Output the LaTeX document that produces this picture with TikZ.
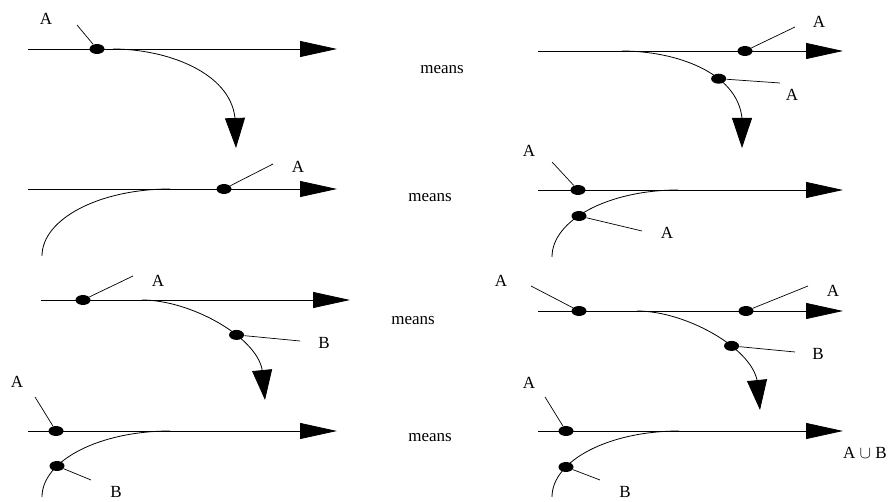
\documentclass[tikz,border=0pt]{standalone}
\usepackage{fontspec}
\setmainfont{Liberation Serif}
\usetikzlibrary{arrows.meta,shapes.geometric}
\begin{document}
\begin{tikzpicture}[x=1pt,y=1pt,
  line width=0.8pt,
  dotnode/.style={ellipse,fill=black,inner sep=0pt,minimum width=15pt,minimum height=10pt},
  lab/.style={font=\fontsize{17}{20}\selectfont,inner sep=0pt},
  harrow/.style={-{Triangle[length=37pt,width=16pt]}},
  varrow/.style={-{Triangle[length=30pt,width=20pt]}},
  tickln/.style={line width=0.7pt}]
\useasboundingbox (0,0) rectangle (896,502);

% ---------- Row 1 left ----------
\coordinate (a1s) at (28,453); \coordinate (a1e) at (337,453);
\coordinate (a1c0) at (113,453); \coordinate (a1c1) at (235,384); \coordinate (a1c2) at (236,354);
\draw[harrow] (a1s) -- (a1e);
\draw[varrow] (a1c0) .. controls (166,453) and (230,430) .. (a1c1) -- (a1c2);
\node[dotnode] (a1d) at (97,453) {};
\coordinate (a1t) at (77,477);
\draw[tickln] (a1d) -- (a1t);
\node[lab] (a1A) at (46,483) {A};

% ---------- Row 1 right ----------
\coordinate (b1s) at (538,451); \coordinate (b1e) at (843,451);
\coordinate (b1c0) at (622,451);
\coordinate (b1c1) at (742,384); \coordinate (b1c2) at (742,354);
\draw[harrow] (b1s) -- (b1e);
\draw[varrow] (b1c0) .. controls (675,451) and (737,430) .. (b1c1)
   node[pos=0.65,dotnode] (b1d2) {} -- (b1c2);
\node[dotnode] (b1d) at (745,451) {};
\coordinate (b1t) at (795,475); \coordinate (b1t2) at (780,419);
\draw[tickln] (b1d) -- (b1t);
\draw[tickln] (b1d2) -- (b1t2);
\node[lab] (b1A) at (819,480) {A};
\node[lab] (b1A2) at (792,407) {A};
\node[lab] (m1) at (442,432) {means};

% ---------- Row 2 left ----------
\coordinate (a2s) at (28,313); \coordinate (a2e) at (337,313);
\coordinate (a2c0) at (170,313);
\draw[harrow] (a2s) -- (a2e);
\draw (a2c0) arc[start angle=90,end angle=180,x radius=128,y radius=67];
\node[dotnode] (a2d) at (224,313) {};
\coordinate (a2t) at (273,338);
\draw[tickln] (a2d) -- (a2t);
\node[lab] (a2A) at (298,335) {A};

% ---------- Row 2 right ----------
\coordinate (b2s) at (538,312); \coordinate (b2e) at (843,312);
\coordinate (b2c0) at (678,312);
\draw[harrow] (b2s) -- (b2e);
\draw (b2c0) arc[start angle=90,end angle=180,x radius=126,y radius=67];
\node[dotnode] (b2d) at (578,312) {};
\node[dotnode] (b2d2) at (579,286) {};
\coordinate (b2t) at (552,340); \coordinate (b2t2) at (642,271);
\draw[tickln] (b2d) -- (b2t);
\draw[tickln] (b2d2) -- (b2t2);
\node[lab] (b2A) at (529,351) {A};
\node[lab] (b2A2) at (667,269) {A};
\node[lab] (m2) at (430,304) {means};

% ---------- Row 3 left ----------
\coordinate (a3s) at (41,202); \coordinate (a3e) at (350,202);
\coordinate (a3c0) at (142,202);
\coordinate (a3c1) at (262,133); \coordinate (a3c2) at (265,102);
\draw[harrow] (a3s) -- (a3e);
\draw[varrow] (a3c0) .. controls (190,202) and (255,166) .. (a3c1)
   node[pos=0.65,dotnode] (a3d2) {} -- (a3c2);
\node[dotnode] (a3d) at (83,202) {};
\coordinate (a3t) at (133,226); \coordinate (a3t2) at (300,161);
\draw[tickln] (a3d) -- (a3t);
\draw[tickln] (a3d2) -- (a3t2);
\node[lab] (a3A) at (158,221) {A};
\node[lab] (a3B) at (324,159) {B};

% ---------- Row 3 right ----------
\coordinate (b3s) at (538,191); \coordinate (b3e) at (843,191);
\coordinate (b3c0) at (637,191);
\coordinate (b3c1) at (757,122); \coordinate (b3c2) at (760,92);
\draw[harrow] (b3s) -- (b3e);
\draw[varrow] (b3c0) .. controls (685,191) and (750,155) .. (b3c1)
   node[pos=0.65,dotnode] (b3d3) {} -- (b3c2);
\node[dotnode] (b3d) at (579,191) {};
\node[dotnode] (b3d2) at (746,191) {};
\coordinate (b3t) at (531,216); \coordinate (b3t2) at (808,216); \coordinate (b3t3) at (795,150);
\draw[tickln] (b3d) -- (b3t);
\draw[tickln] (b3d2) -- (b3t2);
\draw[tickln] (b3d3) -- (b3t3);
\node[lab] (b3A) at (501,221) {A};
\node[lab] (b3A2) at (833,211) {A};
\node[lab] (b3B) at (818,148) {B};
\node[lab] (m3) at (413,181) {means};

% ---------- Row 4 left ----------
\coordinate (a4s) at (28,71); \coordinate (a4e) at (337,71);
\coordinate (a4c0) at (170,71);
\draw[harrow] (a4s) -- (a4e);
\draw (a4c0) arc[start angle=90,end angle=180,x radius=128,y radius=66];
\node[dotnode] (a4d) at (56,71) {};
\node[dotnode] (a4d2) at (57,36) {};
\coordinate (a4t) at (35,105); \coordinate (a4t2) at (91,22);
\draw[tickln] (a4d) -- (a4t);
\draw[tickln] (a4d2) -- (a4t2);
\node[lab] (a4A) at (17,120) {A};
\node[lab] (a4B) at (116,10) {B};

% ---------- Row 4 right ----------
\coordinate (b4s) at (538,71); \coordinate (b4e) at (843,71);
\coordinate (b4c0) at (679,71);
\draw[harrow] (b4s) -- (b4e);
\draw (b4c0) arc[start angle=90,end angle=180,x radius=127,y radius=66];
\node[dotnode] (b4d) at (566,71) {};
\node[dotnode] (b4d2) at (566,35) {};
\coordinate (b4t) at (545,105); \coordinate (b4t2) at (600,22);
\draw[tickln] (b4d) -- (b4t);
\draw[tickln] (b4d2) -- (b4t2);
\node[lab] (b4A) at (529,119) {A};
\node[lab] (b4B) at (625,10) {B};
\node[lab] (b4AB) at (865,49) {A $\cup$ B};
\node[lab] (m4) at (430,64) {means};
\end{tikzpicture}
\end{document}
